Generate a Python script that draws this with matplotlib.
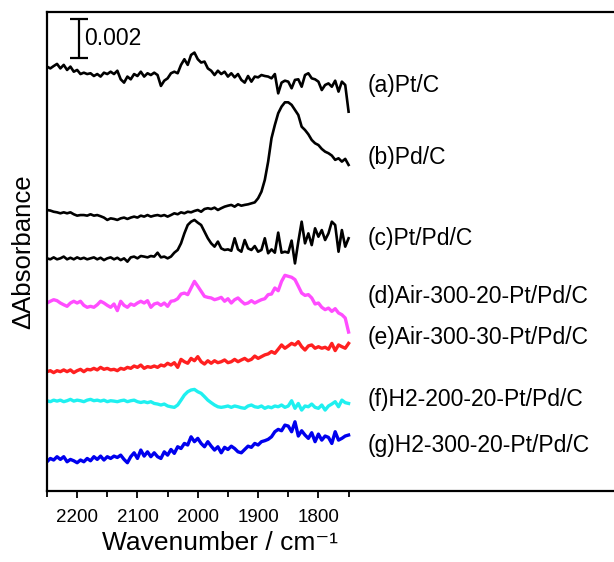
import numpy as np
import matplotlib
matplotlib.use("Agg")
import matplotlib.pyplot as plt

# ---------------- datos ----------------
# numero de onda (cm-1), 91 puntos de 2250 a 1750
wavenumber = np.linspace(2250, 1750, 91)

# espectros en mAbs (1e-3 de absorbancia), relativos a su primer punto
pt_c = [0, -0.09, 0.03, 0.14, -0.09, 0.09, -0.17, 0, -0.26, -0.17,
        -0.38, -0.31, -0.38, -0.34, -0.48, -0.38, -0.51, -0.31, -0.38, -0.26,
        -0.38, -0.21, -0.65, -0.82, -0.51, -0.65, -0.38, -0.48, -0.26, -0.51,
        -0.34, -0.43, -0.31, -0.43, -0.99, -0.72, -0.60, -0.34, -0.26, -0.34,
        0.09, 0.38, 0.09, 0.60, 0.72, 0.38, 0.21, 0.26, -0.09, -0.21,
        -0.43, -0.21, -0.38, -0.26, -0.51, -0.34, -0.55, -0.38, -0.68, -0.82,
        -0.48, -0.77, -0.51, -0.55, -0.43, -0.48, -0.51, -0.60, -0.38, -1.37,
        -0.82, -0.72, -0.77, -1.11, -0.68, -0.65, -1.03, -0.43, -0.34, -0.60,
        -0.65, -0.77, -1.20, -0.94, -0.86, -1.03, -0.72, -1.28, -0.77, -0.94, -2.31]

pd_c = [0, -0.03, -0.09, -0.12, -0.17, -0.12, -0.17, -0.12, -0.22, -0.29,
        -0.26, -0.26, -0.29, -0.22, -0.29, -0.26, -0.32, -0.39, -0.51, -0.43,
        -0.46, -0.51, -0.43, -0.39, -0.46, -0.39, -0.34, -0.39, -0.29, -0.34,
        -0.26, -0.34, -0.29, -0.26, -0.31, -0.26, -0.34, -0.26, -0.17, -0.22,
        -0.12, -0.17, -0.09, -0.12, -0.05, 0, -0.09, 0.05, 0.09, 0.05,
        0.12, 0, 0.09, 0.17, 0.22, 0.26, 0.17, 0.29, 0.22, 0.26,
        0.29, 0.34, 0.39, 0.60, 0.94, 1.54, 2.48, 3.68, 4.36, 4.96,
        5.30, 5.52, 5.52, 5.39, 5.13, 4.87, 4.27, 4.10, 3.88, 3.59,
        3.42, 3.33, 3.13, 2.99, 2.91, 2.79, 2.57, 2.65, 2.48, 2.62, 2.31]

ptpd_c = [0, -0.05, 0.05, -0.05, 0, 0.09, -0.05, 0.03, -0.05, 0.05,
          -0.03, 0.03, -0.05, 0, 0.05, -0.05, 0.03, -0.09, 0, 0.05,
          -0.05, 0.03, -0.09, 0, -0.17, 0.05, 0.09, 0, 0.12, 0.09,
          0.05, 0.12, 0.09, 0.29, 0.05, 0.09, 0, 0.09, 0.29, 0.43,
          0.77, 1.28, 1.71, 1.88, 1.97, 1.83, 1.71, 1.37, 1.03, 0.77,
          0.60, 0.86, 0.51, 0.43, 0.46, 0.39, 1.03, 0.46, 0.34, 0.94,
          0.51, 0.43, 0.63, 0.34, 0.43, 1.03, 0.26, 0.46, 0.29, 1.32,
          0.29, 0.34, 0.29, 0.91, -0.26, 0.86, 1.88, 0.77, 1.28, 0.68,
          1.54, 1.11, 1.45, 0.94, 1.28, 1.88, 1.71, 0.34, 1.45, 0.60, 1.03]

air_300_20 = [0, 0.09, 0.17, 0.12, 0, -0.09, -0.17, 0, 0.09, 0,
              0.09, -0.12, -0.22, -0.17, -0.22, -0.09, 0.09, 0, -0.12, -0.22,
              -0.05, -0.39, 0.09, -0.12, -0.22, -0.05, -0.12, 0, 0.09, 0,
              0.12, -0.22, -0.05, 0, -0.12, 0, -0.17, 0.09, 0.12, 0.22,
              0.46, 0.51, 0.43, 0.77, 1.11, 0.86, 0.60, 0.34, 0.29, 0.26,
              0.17, 0.22, 0.29, 0.09, 0.22, 0, 0.17, 0.26, 0.09, -0.05,
              0, 0.12, 0, 0.09, 0.17, 0.22, 0.43, 0.46, 0.77, 0.63,
              1.11, 1.42, 1.37, 1.32, 1.20, 0.86, 0.51, 0.39, 0.43, 0.26,
              -0.05, 0, -0.22, -0.34, -0.26, -0.43, -0.29, -0.51, -0.60, -0.77, -1.49]

air_300_30 = [0, 0.05, -0.05, 0.05, 0, 0.09, 0, 0.09, -0.05, 0.05,
              0.12, 0, 0.12, 0.09, 0.17, 0.09, 0.22, 0.12, 0.17, 0.09,
              0.12, 0.05, 0.17, 0.12, 0.22, 0.17, 0.29, 0.22, 0.34, 0.17,
              0.26, 0.22, 0.29, 0.22, 0.34, 0.29, 0.43, 0.34, 0.46, 0.22,
              0.63, 0.51, 0.43, 0.68, 0.56, 0.77, 0.51, 0.39, 0.56, 0.43,
              0.56, 0.46, 0.51, 0.60, 0.46, 0.51, 0.63, 0.51, 0.60, 0.68,
              0.56, 0.63, 0.80, 0.68, 0.77, 0.86, 0.91, 1.03, 0.94, 1.15,
              1.37, 1.20, 1.32, 1.45, 1.37, 1.54, 1.28, 1.11, 1.32, 1.37,
              1.20, 1.28, 1.20, 1.25, 1.15, 1.45, 1.08, 1.37, 1.28, 1.20, 1.45]

h2_200_20 = [0, -0.05, 0.03, -0.02, 0.03, -0.05, 0, 0.07, -0.02, 0.03,
             0, -0.05, 0.03, 0.07, 0, 0.03, -0.02, 0.03, -0.05, 0,
             -0.02, -0.05, 0, 0.03, -0.05, 0, 0.03, -0.05, -0.09, -0.05,
             -0.10, -0.05, -0.14, -0.17, -0.22, -0.17, -0.27, -0.31, -0.34, -0.22,
             0.03, 0.29, 0.46, 0.55, 0.58, 0.46, 0.38, 0.21, 0.03, -0.10,
             -0.22, -0.31, -0.34, -0.31, -0.27, -0.34, -0.27, -0.31, -0.36, -0.39,
             -0.27, -0.22, -0.31, -0.34, -0.27, -0.39, -0.31, -0.36, -0.27, -0.31,
             -0.22, -0.34, -0.27, 0, -0.39, -0.14, -0.48, -0.27, -0.31, -0.17,
             -0.34, -0.39, -0.22, -0.48, -0.27, -0.17, -0.05, -0.31, 0.03, -0.10, -0.14]

h2_300_20 = [0, 0.17, 0.09, 0.26, 0.12, 0.26, 0, 0.12, 0.05, -0.05,
             0.09, 0, 0.17, 0.05, 0.26, 0.12, 0.29, 0.09, 0.26, 0.17,
             0.29, 0.22, 0.34, 0.12, -0.05, 0.26, 0.46, 0.17, 0.60, 0.29,
             0.51, 0.26, 0.46, 0.26, 0.17, 0.51, 0.34, 0.63, 0.43, 0.77,
             0.68, 0.94, 0.86, 1.28, 1.03, 1.20, 0.94, 0.77, 1.03, 0.80,
             0.60, 0.77, 0.46, 0.74, 0.63, 0.80, 0.68, 0.51, 0.46, 0.63,
             0.80, 0.74, 0.94, 0.86, 1.03, 1.08, 1.15, 1.28, 1.54, 1.66,
             1.59, 1.88, 1.83, 1.54, 2.05, 1.32, 1.59, 1.37, 1.20, 1.49,
             1.03, 1.42, 1.11, 1.32, 1.25, 0.94, 1.54, 1.11, 1.20, 1.32, 1.37]

spectra = [pt_c, pd_c, ptpd_c, air_300_20, air_300_30, h2_200_20, h2_300_20]
offsets = [21.76, 14.41, 11.93, 9.64, 6.12, 4.63, 1.50]
labels = ['(a)Pt/C', '(b)Pd/C', '(c)Pt/Pd/C', '(d)Air-300-20-Pt/Pd/C',
          '(e)Air-300-30-Pt/Pd/C', '(f)H2-200-20-Pt/Pd/C', '(g)H2-300-20-Pt/Pd/C']
label_y = [20.77, 17.08, 12.97, 9.95, 7.85, 4.67, 2.31]
colors = ['black', 'black', 'black', '#ff4dff', '#ff2020', '#1ff0f0', '#0000ee']
widths = [1.9, 1.9, 1.9, 2.4, 2.4, 2.4, 2.4]

# ---------------- figura ----------------
plt.rcParams['font.family'] = ['Liberation Sans', 'DejaVu Sans']

fig = plt.figure(figsize=(6.14, 5.62), dpi=100)
ax = fig.add_axes([0.0765, 0.1263, 0.9235, 0.8523])

for y, off, c, lw in zip(spectra, offsets, colors, widths):
    ax.plot(wavenumber, np.array(y) + off, color=c, lw=lw)

for lab, ly in zip(labels, label_y):
    ax.text(1718, ly, lab, fontsize=16.5, va='center', ha='left')

# barra de escala 0.002
ax.errorbar([2197], [23.2], yerr=[1.0], color='black', lw=1.6,
            capsize=6.5, capthick=1.6)
ax.text(2189, 23.2, '0.002', fontsize=16.5, va='center', ha='left')

ax.set_xlim(2250, 1310)
ax.set_ylim(0, 24.56)
ax.set_xticks([2200, 2100, 2000, 1900, 1800])
ax.set_xticks([2250, 2150, 2050, 1950, 1850, 1750], minor=True)
ax.tick_params(axis='x', which='major', labelsize=13.5, length=5, width=1.3, pad=8)
ax.tick_params(axis='x', which='minor', length=4, width=1.3)
ax.set_yticks([])
for s in ['left', 'bottom', 'top']:
    ax.spines[s].set_linewidth(1.6)
ax.spines['right'].set_visible(False)

ax.set_xlabel('Wavenumber / cm⁻¹', fontsize=19)
ax.xaxis.set_label_coords(0.306, -0.083)
ax.set_ylabel('ΔAbsorbance', fontsize=18.5)
ax.yaxis.set_label_coords(-0.02, 0.5)

fig.savefig('out.png', dpi=100)
